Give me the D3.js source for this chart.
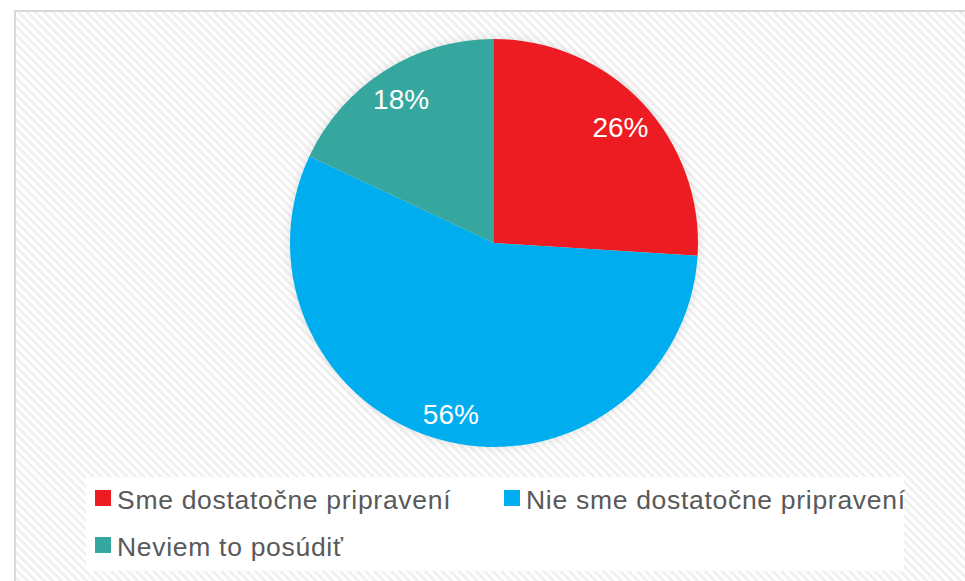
<!DOCTYPE html>
<html lang="sk">
<head>
<meta charset="utf-8">
<title>Pripravenosť</title>
<script src="https://d3js.org/d3.v7.min.js"></script>
<style>
  html,body{margin:0;background:#fff}
  svg{display:block}
  .slice-label{font-family:"Liberation Sans",Arial,sans-serif;font-size:28px;fill:#fff}
  .legend-text{font-family:"Liberation Sans",Arial,sans-serif;font-size:26.5px;letter-spacing:0.7px;fill:#595959}
</style>
</head>
<body>
<svg id="chart" width="965" height="581"></svg>
<script>
  // data
  const categories=['Sme dostatočne pripravení','Nie sme dostatočne pripravení','Neviem to posúdiť'];
  const values=[26,56,18];
  const colors=['#ED1C24','#00AEEF','#35A79E'];

  const W=965,H=581;
  const cx=494,cy=243,r=204;

  const svg=d3.select('#chart');
  const defs=svg.append('defs');

  // faint diagonal hatch background
  const pat=defs.append('pattern').attr('id','hatch').attr('patternUnits','userSpaceOnUse')
    .attr('width',6).attr('height',6).attr('patternTransform','rotate(45)');
  pat.append('rect').attr('width',6).attr('height',6).attr('fill','#fff');
  pat.append('rect').attr('width',6).attr('height',2.6).attr('fill','#efefef');

  const shadow=defs.append('filter').attr('id','soft').attr('x','-20%').attr('y','-20%').attr('width','140%').attr('height','140%');
  shadow.append('feGaussianBlur').attr('in','SourceAlpha').attr('stdDeviation',5).attr('result','b');
  shadow.append('feFlood').attr('flood-color','#000').attr('flood-opacity',0.12);
  shadow.append('feComposite').attr('in2','b').attr('operator','in').attr('result','s');
  const m=shadow.append('feMerge');
  m.append('feMergeNode').attr('in','s');
  m.append('feMergeNode').attr('in','SourceGraphic');

  svg.append('rect').attr('x',15).attr('y',11).attr('width',W+20).attr('height',H+20)
    .attr('fill','url(#hatch)').attr('stroke','#d9d9d9').attr('stroke-width',2);

  // pie
  const pie=d3.pie().sort(null).value(d=>d)(values);
  const arc=d3.arc().innerRadius(0).outerRadius(r);
  const labelArc=d3.arc().innerRadius(r*0.85).outerRadius(r*0.85);
  const total=d3.sum(values);

  const g=svg.append('g').attr('transform',`translate(${cx},${cy})`);
  g.append('g').attr('filter','url(#soft)').selectAll('path').data(pie).enter().append('path')
    .attr('d',arc).attr('fill',(d,i)=>colors[i]);
  g.selectAll('text').data(pie).enter().append('text')
    .attr('class','slice-label')
    .attr('transform',d=>`translate(${labelArc.centroid(d)})`)
    .attr('text-anchor','middle').attr('dy','0.45em')
    .text(d=>Math.round(d.data/total*100)+'%');

  // legend
  const lg=svg.append('g');
  lg.append('rect').attr('x',86).attr('y',477).attr('width',818).attr('height',94).attr('fill','#fff');
  const pos=[[95,490],[504,490],[95,537]];
  categories.forEach((c,i)=>{
    lg.append('rect').attr('x',pos[i][0]).attr('y',pos[i][1]).attr('width',16).attr('height',16).attr('fill',colors[i]);
    lg.append('text').attr('class','legend-text').attr('x',pos[i][0]+22).attr('y',pos[i][1]+19).text(c);
  });
</script>
</body>
</html>
